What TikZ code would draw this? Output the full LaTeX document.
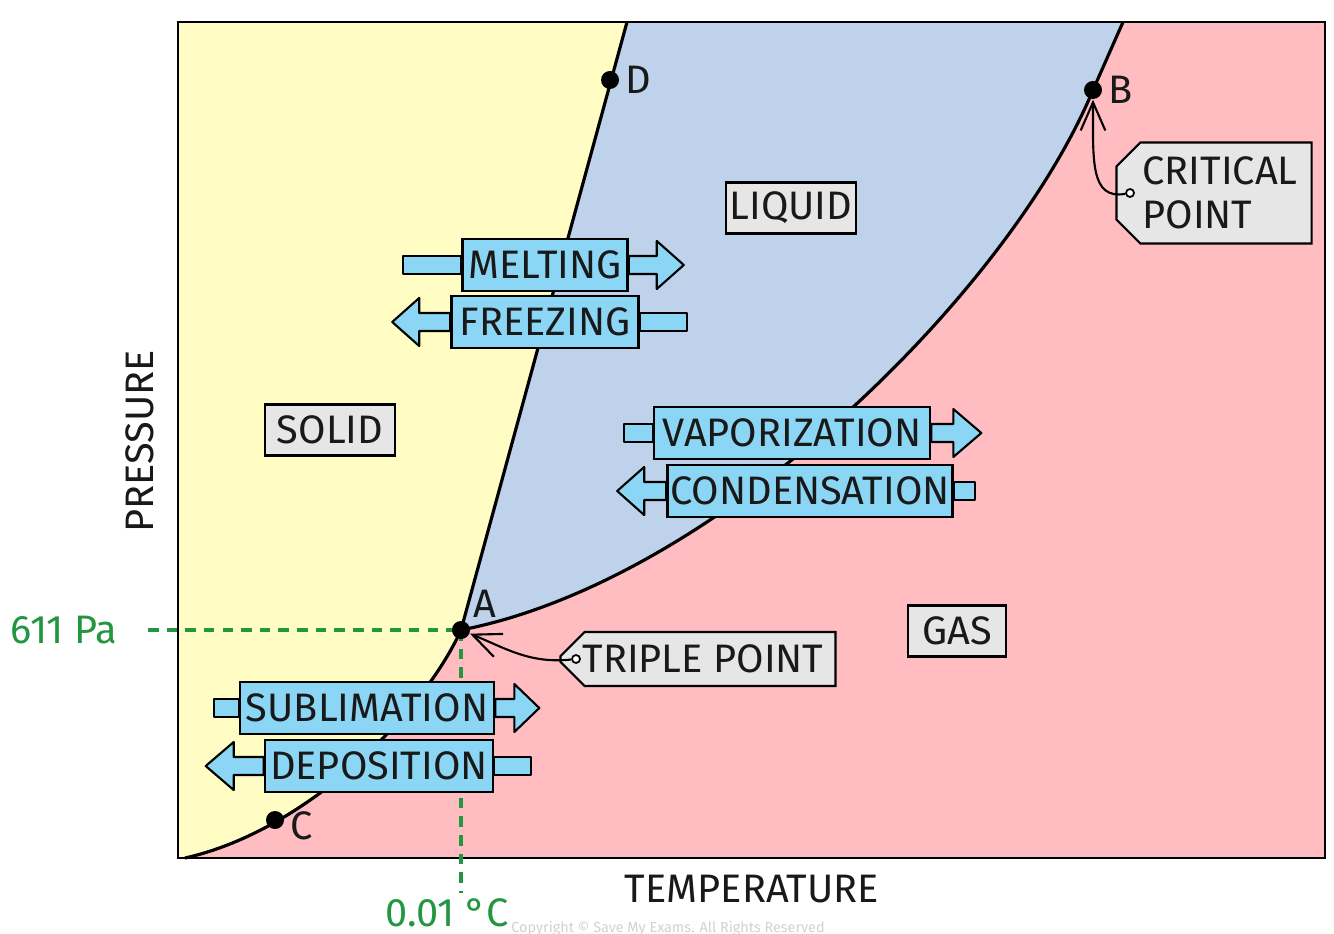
\documentclass[tikz,border=0pt]{standalone}
\usepackage{fontspec}
\setmainfont{Fira Sans}
\usetikzlibrary{arrows.meta,shapes.misc}
\definecolor{solidyellow}{RGB}{255,252,196}
\definecolor{liquidblue}{RGB}{190,210,235}
\definecolor{gaspink}{RGB}{255,188,193}
\definecolor{flowcyan}{RGB}{140,214,245}
\definecolor{taggray}{RGB}{230,230,230}
\definecolor{markgreen}{RGB}{35,150,65}
\definecolor{textdark}{RGB}{25,25,25}
\pgfdeclarelayer{phases}
\pgfdeclarelayer{flows}
\pgfsetlayers{phases,flows,main}
\newcommand{\labelfont}{\fontsize{11.3}{12.5}\selectfont}

\tikzset{
  boundary/.style={line width=0.9pt, black},
  phasebox/.style={draw, fill=taggray, line width=0.6pt, minimum height=0.51cm, inner sep=0pt, text=textdark, font=\labelfont},
  flowbox/.style={draw, fill=flowcyan, line width=0.7pt, minimum height=0.52cm, inner sep=0pt, text=textdark, font=\labelfont},
  flow/.style={draw, fill=flowcyan, line width=0.6pt, line join=round},
  tag/.style={shape=chamfered rectangle, chamfered rectangle corners={north west,south west},
    chamfered rectangle xsep=0.12cm, chamfered rectangle ysep=0.12cm,
    draw, fill=taggray, line width=0.6pt, inner sep=0pt, text=textdark, font=\labelfont},
  hook/.style={circle, draw, fill=white, inner sep=0pt, minimum size=0.08cm, line width=0.5pt},
  pointer/.style={line width=0.6pt, -{Straight Barb[length=8pt,width=7pt]}},
  dot/.style={circle, fill=black, inner sep=0pt, minimum size=0.18cm},
  lbl/.style={font=\labelfont, text=textdark, inner sep=0.05cm},
  guide/.style={markgreen, line width=1.1pt, dash pattern=on 3pt off 2.3pt},
}

\begin{document}
\begin{tikzpicture}[x=0.01cm, y=-0.01cm]
  \useasboundingbox (0,0) rectangle (1334,934);

  % phase regions
  \coordinate (tp) at (461,630);
  \coordinate (cp) at (1093,90);
  \begin{pgfonlayer}{phases}
    \fill[gaspink] (178,22) rectangle (1325,858);
    \fill[solidyellow] (178,22) -- (627,22) -- (tp) .. controls (425,710) and (310,830) .. (185,858) -- (178,858) -- cycle;
    \fill[liquidblue] (627,22) -- (tp) .. controls (720,580) and (1010,290) .. (cp) -- (1123,22) -- cycle;
    \draw[boundary] (185,858) .. controls (310,830) and (425,710) .. (tp) -- (627,22);
    \draw[boundary] (tp) .. controls (720,580) and (1010,290) .. (cp) -- (1123,22);
    \draw[line width=0.7pt] (178,22) rectangle (1325,858);
  \end{pgfonlayer}

  % axes
  \node[font=\labelfont, text=textdark, rotate=90] (pressure) at (140,441) {PRESSURE};
  \node[font=\labelfont, text=textdark] (temperature) at (752,889) {TEMPERATURE};

  % triple point readings
  \node[font=\labelfont, text=markgreen] (pa) at (64,630) {611 Pa};
  \node[font=\labelfont, text=markgreen] (degc) at (447,913) {0.01 °C};
  \coordinate (paend) at (148,630);
  \coordinate (degend) at (461,893);
  \draw[guide] (paend) -- (tp);
  \draw[guide] (tp) -- (degend);

  % points
  \node[dot, label={[lbl]right:D}] (D) at (610,80) {};
  \node[dot, label={[lbl]right:B}] (B) at (cp) {};
  \node[dot, label={[lbl]above right:A}] (A) at (tp) {};
  \node[dot, label={[lbl, yshift=-0.06cm]right:C}] (C) at (275,820) {};

  % phase names
  \node[phasebox, minimum width=1.3cm] (liquid) at (791,208) {LIQUID};
  \node[phasebox, minimum width=1.3cm] (solid) at (330,430) {SOLID};
  \node[phasebox, minimum width=0.98cm] (gas) at (957,631) {GAS};

  % tags
  \node[tag, minimum width=2.67cm, minimum height=0.54cm] (triple) at (698,659) {\hspace{0.1cm}TRIPLE POINT};
  \node[tag, minimum width=1.95cm, minimum height=1.01cm, align=left] (critical) at (1214,193) {\hspace{0.12cm}CRITICAL\\\hspace{0.12cm}POINT};
  \node[hook] (tphook) at (576,659) {};
  \node[hook] (crhook) at (1130,193) {};
  \draw[pointer] (tphook) .. controls (530,664) and (505,648) .. (A);
  \draw[pointer] (crhook) .. controls (1090,200) and (1093,160) .. (B);

  % phase changes
  \node[flowbox, minimum width=1.65cm] (melt) at (545,265) {MELTING};
  \node[flowbox, minimum width=1.87cm] (freeze) at (545,322) {FREEZING};
  \node[flowbox, minimum width=2.76cm] (vapor) at (792,433) {VAPORIZATION};
  \node[flowbox, minimum width=2.85cm] (conden) at (810,491) {CONDENSATION};
  \node[flowbox, minimum width=2.54cm] (sublim) at (367,708) {SUBLIMATION};
  \node[flowbox, minimum width=2.28cm] (depos) at (379,766) {DEPOSITION};

  \begin{pgfonlayer}{flows}
    \draw[flow] (melt.west) ++(0,-9) rectangle ++(-58,18);
    \draw[flow] (melt.east) ++(0,-9) -- ++(28,0) -- ++(0,-15) -- ++(27,24) -- ++(-27,24) -- ++(0,-15) -- ++(-28,0) -- cycle;
    \draw[flow] (freeze.east) ++(0,-9) rectangle ++(47,18);
    \draw[flow] (freeze.west) ++(0,-9) -- ++(-31,0) -- ++(0,-15) -- ++(-27,24) -- ++(27,24) -- ++(0,-15) -- ++(31,0) -- cycle;
    \draw[flow] (vapor.west) ++(0,-9) rectangle ++(-29,18);
    \draw[flow] (vapor.east) ++(0,-9) -- ++(22,0) -- ++(0,-15) -- ++(28,24) -- ++(-28,24) -- ++(0,-15) -- ++(-22,0) -- cycle;
    \draw[flow] (conden.east) ++(0,-9) rectangle ++(21,18);
    \draw[flow] (conden.west) ++(0,-9) -- ++(-22,0) -- ++(0,-15) -- ++(-27,24) -- ++(27,24) -- ++(0,-15) -- ++(22,0) -- cycle;
    \draw[flow] (sublim.west) ++(0,-9) rectangle ++(-25,18);
    \draw[flow] (sublim.east) ++(0,-9) -- ++(19,0) -- ++(0,-15) -- ++(25,24) -- ++(-25,24) -- ++(0,-15) -- ++(-19,0) -- cycle;
    \draw[flow] (depos.east) ++(0,-9) rectangle ++(37,18);
    \draw[flow] (depos.west) ++(0,-9) -- ++(-30,0) -- ++(0,-15) -- ++(-28,24) -- ++(28,24) -- ++(0,-15) -- ++(30,0) -- cycle;
  \end{pgfonlayer}

  \node[font=\fontsize{4.1}{5}\selectfont, text=black!18] (copyright) at (668,928) {Copyright © Save My Exams. All Rights Reserved};
\end{tikzpicture}
\end{document}
